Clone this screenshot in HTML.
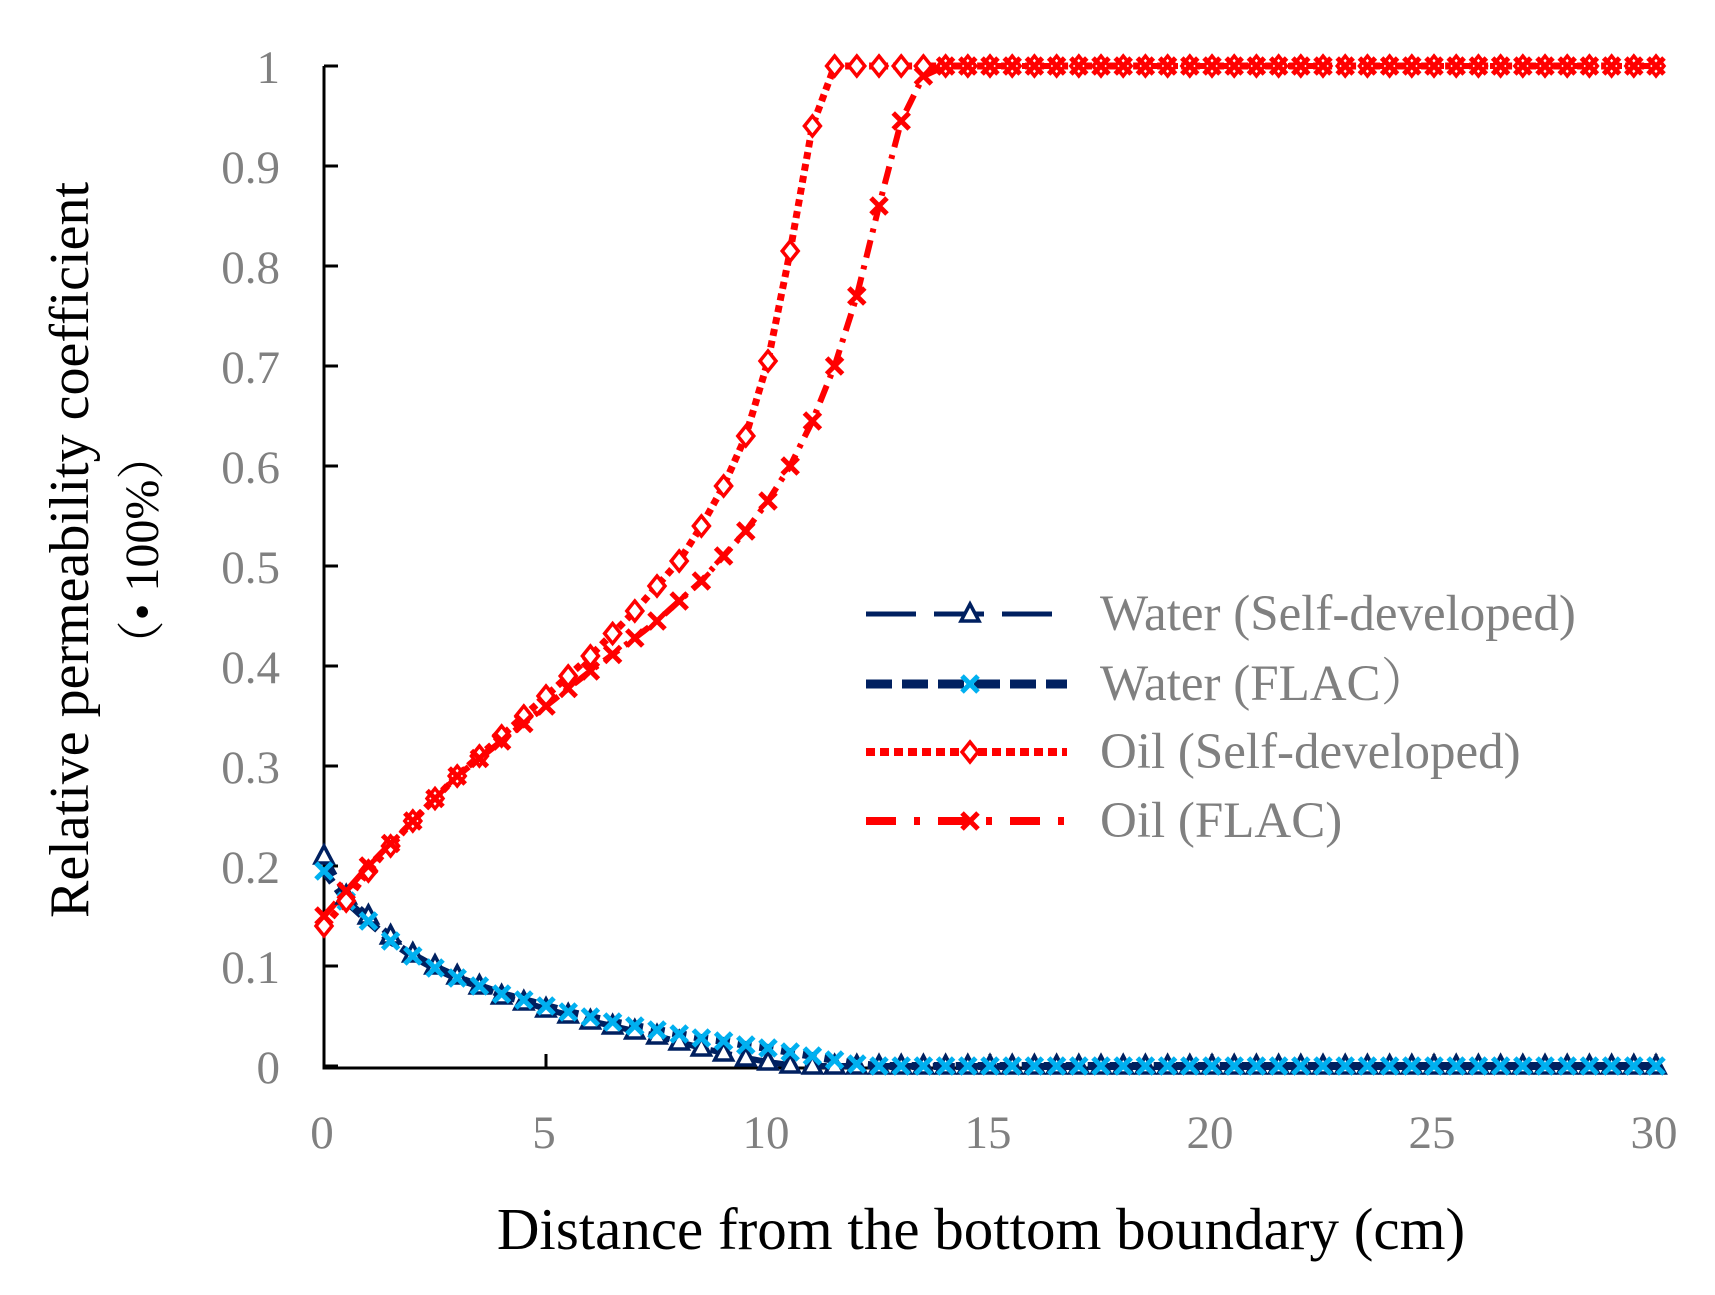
<!DOCTYPE html>
<html><head><meta charset="utf-8"><style>
html,body{margin:0;padding:0;background:#fff}
svg{display:block}
text{font-family:"Liberation Serif","Noto Serif CJK SC",serif}
</style></head><body>
<svg id="s" width="1715" height="1295" xmlns="http://www.w3.org/2000/svg">
<g fill="#808080" font-size="47" text-anchor="end">
<text x="280" y="1083">0</text><text x="280" y="983">0.1</text><text x="280" y="883">0.2</text><text x="280" y="783">0.3</text><text x="280" y="683">0.4</text><text x="280" y="583">0.5</text><text x="280" y="483">0.6</text><text x="280" y="383">0.7</text><text x="280" y="283">0.8</text><text x="280" y="183">0.9</text><text x="280" y="83">1</text>
</g>
<g fill="#808080" font-size="47" text-anchor="middle">
<text x="322" y="1148">0</text><text x="544" y="1148">5</text><text x="766" y="1148">10</text><text x="988" y="1148">15</text><text x="1210" y="1148">20</text><text x="1432" y="1148">25</text><text x="1654" y="1148">30</text>
</g>
<text x="981" y="1249" font-size="59" text-anchor="middle" fill="#000">Distance from the bottom boundary (cm)</text>
<text transform="translate(88,550) rotate(-90)" font-size="56" text-anchor="middle" fill="#000">Relative permeability coefficient</text>
<text transform="translate(158,550) rotate(-90)" font-size="48" text-anchor="middle" fill="#000">（• 100%）</text>
<g id="axes" stroke="#000" stroke-width="3" fill="none">
<path d="M324,66 V1068 H1656"/>
</g>
<g id="plot"></g>
<g font-size="51" fill="#808080">
<text x="1100" y="630">Water (Self-developed)</text>
<text x="1100" y="700">Water (FLAC）</text>
<text x="1100" y="768">Oil (Self-developed)</text>
<text x="1100" y="837">Oil (FLAC)</text>
</g>
</svg>
<script>
const NS="http://www.w3.org/2000/svg";
const g=document.getElementById('plot');const ax=document.getElementById('axes');
function X(x){return 324+x*44.4}function Y(v){return 1066-v*1000}
for(let i=0;i<=10;i++){const l=document.createElementNS(NS,'line');l.setAttribute('x1',324);l.setAttribute('x2',338);l.setAttribute('y1',Y(i/10));l.setAttribute('y2',Y(i/10));ax.appendChild(l);}
for(let i=1;i<=6;i++){const l=document.createElementNS(NS,'line');l.setAttribute('x1',X(i*5));l.setAttribute('x2',X(i*5));l.setAttribute('y1',1068);l.setAttribute('y2',1054);ax.appendChild(l);}
function interp(pts,x){if(x<=pts[0][0])return pts[0][1];for(let i=1;i<pts.length;i++){if(x<=pts[i][0]){const a=pts[i-1],b=pts[i];return a[1]+(b[1]-a[1])*(x-a[0])/(b[0]-a[0]);}}return pts[pts.length-1][1];}
const ws=[[0,.21],[.5,.17],[1,.15],[1.5,.13],[2,.112],[2.5,.1],[3,.09],[3.5,.08],[4,.07],[4.5,.064],[5,.057],[5.5,.051],[6,.045],[6.5,.04],[7,.035],[7.5,.03],[8,.024],[8.5,.018],[9,.013],[9.5,.008],[10,.004],[10.5,.001],[11,0],[30,0]];
const wf=[[0,.195],[.5,.165],[1,.145],[1.5,.125],[2,.11],[2.5,.098],[3,.088],[3.5,.08],[4,.072],[4.5,.066],[5,.06],[5.5,.054],[6,.049],[6.5,.044],[7,.04],[7.5,.036],[8,.032],[8.5,.028],[9,.025],[9.5,.021],[10,.018],[10.5,.014],[11,.01],[11.5,.006],[12,.002],[12.5,0],[30,0]];
const os=[[0,.14],[.5,.165],[1,.195],[2,.245],[3,.29],[4,.33],[5,.37],[6,.41],[7,.455],[7.5,.48],[8,.505],[8.5,.54],[9,.58],[9.5,.63],[10,.705],[10.5,.815],[11,.94],[11.5,1],[30,1]];
const of=[[0,.15],[.5,.175],[1,.2],[2,.245],[3,.29],[4,.325],[5,.36],[6,.395],[7,.428],[7.5,.445],[8,.465],[8.5,.485],[9,.51],[9.5,.535],[10,.565],[10.5,.6],[11,.645],[11.5,.7],[12,.77],[12.5,.86],[13,.945],[13.5,.99],[14,1],[30,1]];
function path(pts,stroke,w,dash){let d='';for(let x=0;x<=30.001;x+=0.1){d+=(d?'L':'M')+X(x).toFixed(1)+','+Y(interp(pts,x)).toFixed(1);}const p=document.createElementNS(NS,'path');p.setAttribute('d',d);p.setAttribute('fill','none');p.setAttribute('stroke',stroke);p.setAttribute('stroke-width',w);if(dash)p.setAttribute('stroke-dasharray',dash);g.appendChild(p);}
function mk(type,cx,cy,col){let e;if(type=='tri'){e=document.createElementNS(NS,'path');e.setAttribute('d',`M${cx},${cy-10}L${cx+9},${cy+7}L${cx-9},${cy+7}Z`);e.setAttribute('fill','#fff');e.setAttribute('stroke',col);e.setAttribute('stroke-width',3.5);}
else if(type=='dia'){e=document.createElementNS(NS,'path');e.setAttribute('d',`M${cx},${cy-10}L${cx+8},${cy}L${cx},${cy+10}L${cx-8},${cy}Z`);e.setAttribute('fill','#fff');e.setAttribute('stroke',col);e.setAttribute('stroke-width',3.5);}
else{e=document.createElementNS(NS,'path');e.setAttribute('d',`M${cx-8},${cy-8}L${cx+8},${cy+8}M${cx+8},${cy-8}L${cx-8},${cy+8}`);e.setAttribute('stroke',col);e.setAttribute('stroke-width',5);}
g.appendChild(e);}
path(ws,'#002060',6,'22,10');
path(wf,'#002060',8,'14,8');
path(os,'#ff0000',7,'7,5');
path(of,'#ff0000',6,'18,8,4,8');
for(let x=0;x<=30.001;x+=0.5){mk('tri',X(x),Y(interp(ws,x)),'#002060');}
for(let x=0;x<=30.001;x+=0.5){mk('x',X(x),Y(interp(wf,x)),'#00b0f0');}
for(let x=0;x<=30.001;x+=0.5){mk('dia',X(x),Y(interp(os,x)),'#ff0000');}
for(let x=0;x<=30.001;x+=0.5){mk('x',X(x),Y(interp(of,x)),'#ff0000');}
function leg(y,stroke,w,dash,type,mcol){const l=document.createElementNS(NS,'line');l.setAttribute('x1',866);l.setAttribute('x2',1067);l.setAttribute('y1',y);l.setAttribute('y2',y);l.setAttribute('stroke',stroke);l.setAttribute('stroke-width',w);l.setAttribute('stroke-dasharray',dash);g.appendChild(l);mk(type,970,y,mcol);}
leg(614,'#002060',5,'50,18','tri','#002060');
leg(684,'#002060',9,'26,10','x','#00b0f0');
leg(752,'#ff0000',8,'9,5','dia','#ff0000');
leg(821,'#ff0000',8,'30,18,6,18','x','#ff0000');
</script>
</body></html>
